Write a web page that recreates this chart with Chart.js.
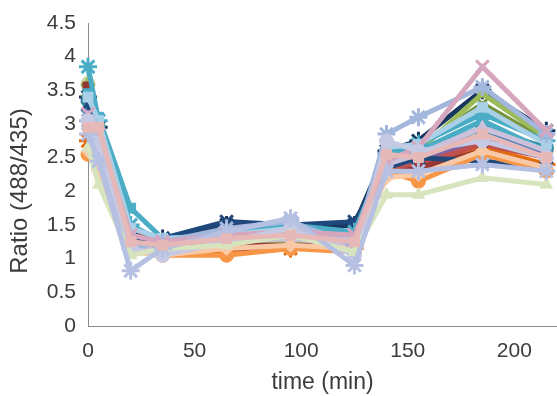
<!DOCTYPE html>
<html lang="en">
<head>
  <meta charset="UTF-8">
  <title>Ratio (488/435) over time</title>
  <script src="https://cdn.jsdelivr.net/npm/chart.js"></script>
  <style>
    html, body { margin: 0; padding: 0; background: #fff; overflow: hidden; }
    #wrap { width: 557px; height: 396px; }
  </style>
</head>
<body>
  <div id="wrap"><canvas id="ratioChart"></canvas></div>

  <script>
    // time points (min)
    const times = [0, 5, 20, 35, 65, 95, 125, 140, 155, 185, 215];
    const xTicks = [0, 50, 100, 150, 200];
    const yTicks = [0, 0.5, 1, 1.5, 2, 2.5, 3, 3.5, 4, 4.5];
    const yTickLabels = ['0', '0.5', '1', '1.5', '2', '2.5', '3', '3.5', '4', '4.5'];

    // one array per cell trace
    const cell01 = [2.95, 2.95, 1.25, 1.2, 1.3, 1.35, 1.25, 2.55, 2.5, 2.85, 2.5];
    const cell02 = [2.85, 2.45, 0.82, 1.15, 1.4, 1.6, 0.9, 2.3, 2.3, 2.4, 2.3];
    const cell03 = [2.65, 2.1, 1.05, 1.15, 1.2, 1.35, 1.1, 1.95, 1.95, 2.2, 2.1];
    const cell04 = [3.05, 2.7, 1.15, 1.05, 1.25, 1.45, 1.05, 2.75, 2.6, 2.75, 2.5];
    const cell05 = [3.15, 2.85, 1.35, 1.25, 1.35, 1.4, 1.35, 2.45, 2.65, 3.85, 2.9];
    const cell06 = [3.05, 2.6, 1.15, 1.25, 1.45, 1.55, 1.2, 2.85, 3.1, 3.55, 2.85];
    const cell07 = [3.4, 3.05, 1.45, 1.3, 1.35, 1.45, 1.3, 2.65, 2.7, 3.25, 2.7];
    const cell08 = [2.6, 2.3, 1.1, 1.05, 1.15, 1.2, 1.15, 2.2, 2.25, 2.6, 2.35];
    const cell09 = [3.1, 2.75, 1.2, 1.1, 1.25, 1.3, 1.2, 2.4, 2.55, 2.95, 2.6];
    const cell10 = [3.45, 3.1, 1.75, 1.3, 1.35, 1.45, 1.3, 2.5, 2.6, 3.05, 2.6];
    const cell11 = [3.85, 3.05, 1.5, 1.25, 1.4, 1.5, 1.4, 2.55, 2.7, 3.15, 2.75];
    const cell12 = [2.55, 2.35, 1.15, 1.05, 1.05, 1.15, 1.1, 2.3, 2.15, 2.55, 2.3];
    const cell13 = [3.3, 2.85, 1.3, 1.3, 1.55, 1.5, 1.55, 2.35, 2.5, 2.45, 2.35];
    const cell14 = [3.55, 2.9, 1.45, 1.2, 1.2, 1.2, 1.2, 2.25, 2.35, 2.6, 2.35];
    const cell15 = [3.6, 3.0, 1.4, 1.2, 1.3, 1.25, 1.3, 2.4, 2.6, 3.45, 2.8];
    const cell16 = [3.2, 2.75, 1.3, 1.15, 1.3, 1.3, 1.25, 2.4, 2.5, 2.85, 2.6];
    const cell17 = [3.0, 2.6, 1.2, 1.1, 1.15, 1.15, 1.15, 2.3, 2.4, 2.7, 2.5];
    const cell18 = [3.1, 2.7, 1.25, 1.15, 1.25, 1.25, 1.2, 2.35, 2.45, 2.75, 2.55];
    const cell19 = [3.35, 2.8, 1.4, 1.25, 1.35, 1.35, 1.35, 2.45, 2.55, 2.95, 2.65];
    const cell20 = [2.75, 2.5, 1.2, 1.1, 1.1, 1.15, 1.15, 2.35, 2.3, 2.65, 2.4];
    const cell21 = [3.5, 2.9, 1.35, 1.2, 1.35, 1.3, 1.35, 2.5, 2.65, 3.3, 2.75];
    const cell22 = [3.4, 2.95, 1.35, 1.3, 1.5, 1.45, 1.5, 2.6, 2.75, 3.5, 2.9];
    const cell23 = [3.6, 2.8, 1.3, 1.15, 1.25, 1.3, 1.25, 2.45, 2.55, 2.9, 2.6];

    const traces = [cell01, cell02, cell03, cell04, cell05, cell06, cell07, cell08,
      cell09, cell10, cell11, cell12, cell13, cell14, cell15, cell16, cell17,
      cell18, cell19, cell20, cell21, cell22, cell23];

    // styling (first trace is drawn on top)
    const colors = ['#E6B9B8', '#B5C0E2', '#D7E4BD', '#C5C9E4', '#D5A6BD', '#A3B6DC',
      '#A9D0E6', '#F9C9A5', '#CCC0DA', '#4BACC6', '#4BACC6', '#F79646', '#1F497D',
      '#953735', '#9BBB59', '#4F81BD', '#C0504D', '#8064A2', '#31859C', '#E46C0A',
      '#77933C', '#17375E', '#C3D69B'];
    const markers = ['rect', 'star', 'triangle', 'circle', 'crossRot', 'star',
      'rect', 'rectRot', 'triangle', 'rect', 'star', 'circle', 'crossRot',
      'rect', 'triangle', 'rectRot', 'rect', 'triangle', 'circle', 'star',
      'crossRot', 'star', 'circle'];

    const datasets = traces.map((vals, i) => {
      const lineMark = markers[i] === 'star' || markers[i] === 'crossRot';
      return {
        label: 'Cell ' + (i + 1),
        data: times.map((t, j) => ({ x: t, y: vals[j] })),
        borderColor: colors[i],
        backgroundColor: colors[i],
        pointBackgroundColor: colors[i],
        pointBorderColor: colors[i],
        borderWidth: 5,
        pointStyle: markers[i],
        pointRadius: lineMark ? 9 : 7,
        pointBorderWidth: lineMark ? 3 : 1,
        tension: 0,
        clip: false
      };
    });

    // y title drawn by hand so it can sit where the original has it
    const yTitle = {
      id: 'yTitle',
      afterDraw(chart) {
        const c = chart.ctx;
        c.save();
        c.translate(20, 191);
        c.rotate(-Math.PI / 2);
        c.fillStyle = '#3c3c3c';
        c.font = '24px "Liberation Sans"';
        c.textAlign = 'center';
        c.textBaseline = 'middle';
        c.fillText('Ratio (488/435)', 0, 0);
        c.restore();
      }
    };

    const ctx = document.getElementById('ratioChart').getContext('2d');
    const chart = new Chart(ctx, {
      type: 'line',
      data: { datasets: datasets },
      plugins: [yTitle],
      options: {
        responsive: true,
        maintainAspectRatio: false,
        animation: false,
        layout: { autoPadding: false, padding: { top: 23, right: 0, bottom: 0, left: 0 } },
        plugins: {
          legend: { display: false },
          tooltip: { enabled: false }
        },
        scales: {
          x: {
            type: 'linear',
            min: 0,
            max: 220,
            grid: { display: false, drawTicks: false },
            border: { display: true, color: '#8c8c8c', width: 1 },
            afterBuildTicks: (scale) => { scale.ticks = xTicks.map(v => ({ value: v })); },
            afterFit: (scale) => {
              scale.height = 70;
              scale.paddingLeft = 0;
              scale.paddingRight = 0;
            },
            ticks: {
              color: '#3c3c3c',
              padding: 13,
              maxRotation: 0,
              font: { family: 'Liberation Sans', size: 21 }
            },
            title: {
              display: true,
              text: 'time (min)',
              color: '#3c3c3c',
              padding: { top: 0, bottom: 0 },
              font: { family: 'Liberation Sans', size: 23 }
            }
          },
          y: {
            min: 0,
            max: 4.5,
            grid: { display: false, drawTicks: false },
            border: { display: true, color: '#8c8c8c', width: 1 },
            afterBuildTicks: (scale) => { scale.ticks = yTicks.map(v => ({ value: v })); },
            afterFit: (scale) => {
              scale.width = 88;
              scale.paddingTop = 0;
              scale.paddingBottom = 0;
            },
            ticks: {
              color: '#3c3c3c',
              padding: 12,
              font: { family: 'Liberation Sans', size: 21 },
              callback: (value, index) => yTickLabels[index]
            },
            title: { display: false }
          }
        }
      }
    });
  </script>
</body>
</html>
